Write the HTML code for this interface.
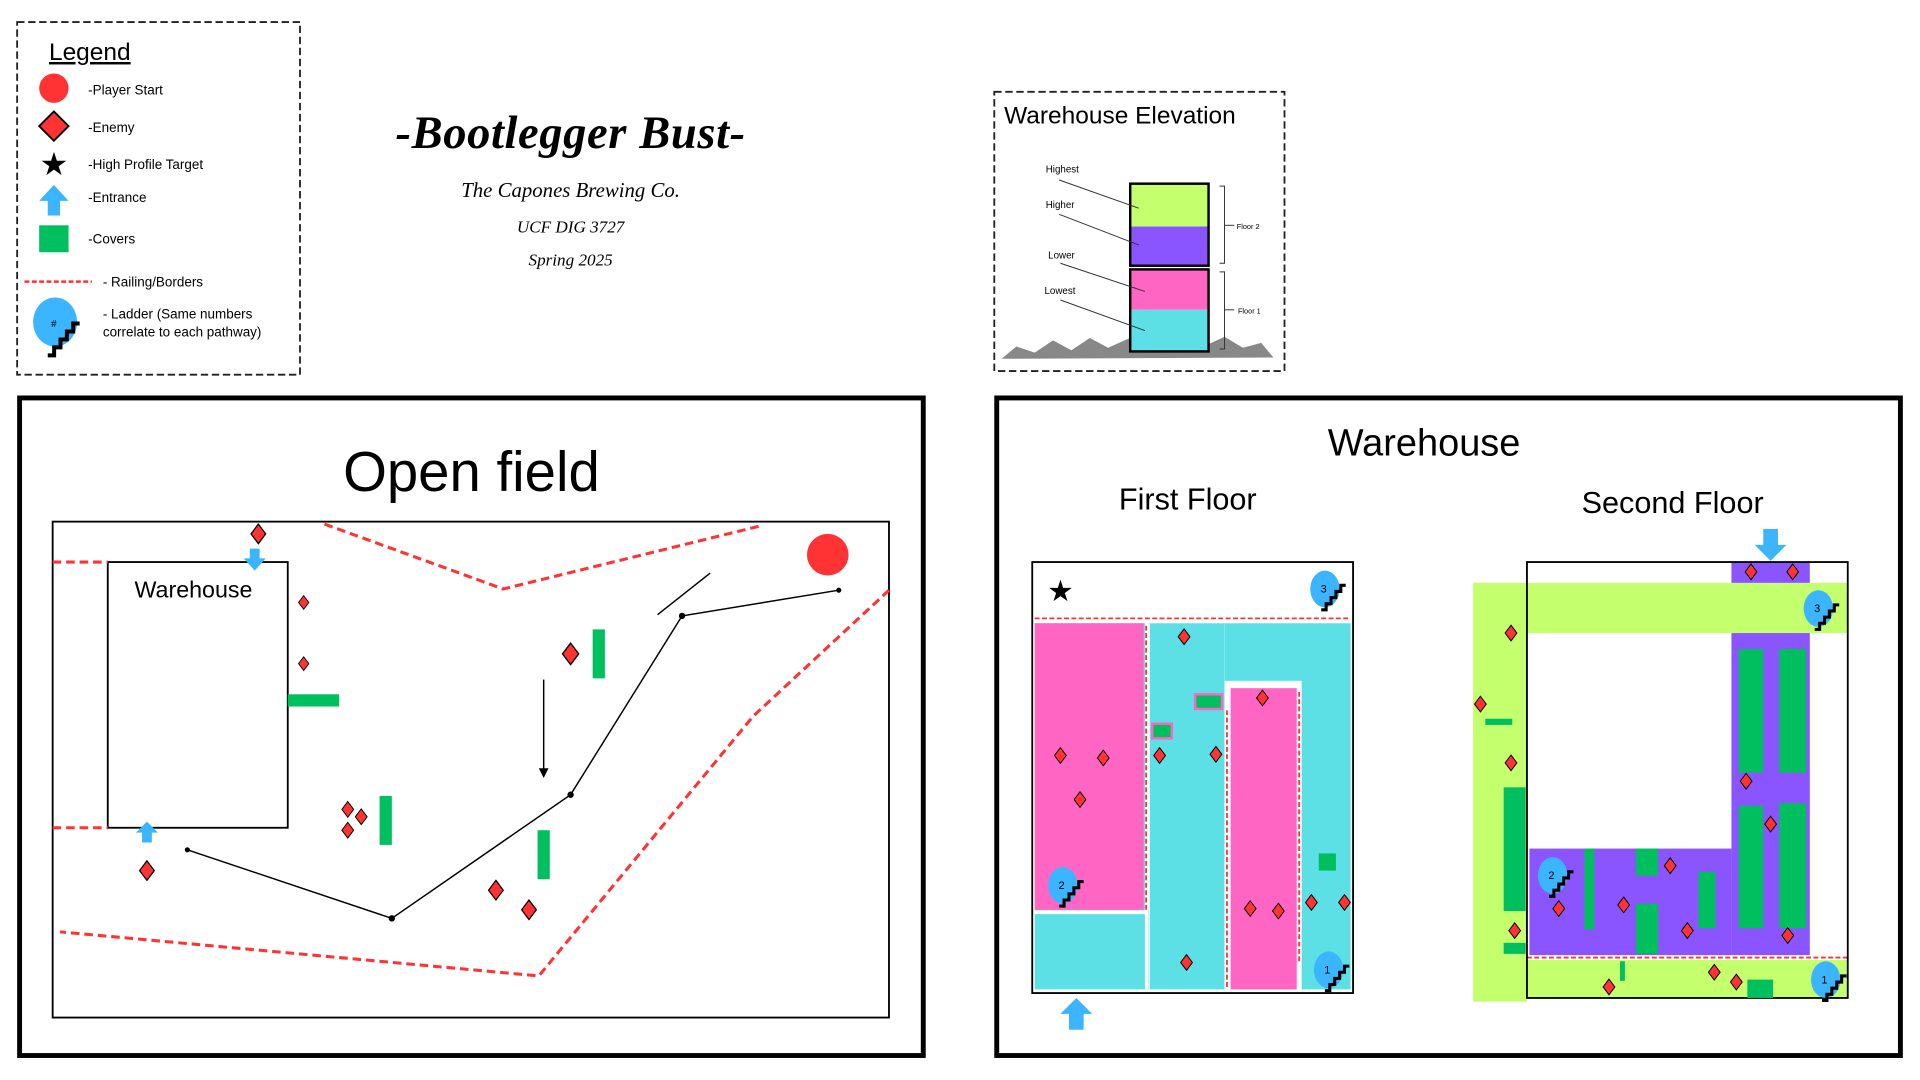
<!DOCTYPE html>
<html><head><meta charset="utf-8"><style>
html,body{margin:0;padding:0;background:#fff;width:1920px;height:1080px;overflow:hidden}
svg{display:block}
.s{font-family:"Liberation Sans",sans-serif}
.r{font-family:"Liberation Serif",serif;font-style:italic}
</style></head><body>
<svg id="map" width="1920" height="1080" viewBox="0 0 1568 882" preserveAspectRatio="none" xmlns="http://www.w3.org/2000/svg">
<defs>
<g id="dia"><polygon points="0,-8 6,0 0,8 -6,0" fill="#f33" stroke="#000" stroke-width="1"/></g>
<g id="stairs"><polyline points="-10,14 -6,14 -6,9 -2,9 -2,4 2,4 2,-1 6,-1 6,-6 10,-6" fill="none" stroke="#000" stroke-width="2.5"/></g>
</defs>

<!-- Legend -->
<g>
<rect x="14" y="18" width="231" height="288" fill="none" stroke="#222" stroke-width="1.5" stroke-dasharray="6,3"/>
<text class="s" x="40" y="49" font-size="20" text-decoration="underline">Legend</text>
<circle cx="44" cy="72" r="12" fill="#f33"/>
<text class="s" x="72" y="77" font-size="11">-Player Start</text>
<polygon points="44,91 56,103 44,115 32,103" fill="#f33" stroke="#000" stroke-width="1.5"/>
<text class="s" x="72" y="108" font-size="11">-Enemy</text>
<text x="44" y="143" font-size="26" text-anchor="middle">★</text>
<text class="s" x="72" y="138" font-size="11">-High Profile Target</text>
<polygon points="44,151 56,164 49,164 49,176 39,176 39,164 32,164" fill="#3bb5ff"/>
<text class="s" x="72" y="165" font-size="11">-Entrance</text>
<rect x="32" y="184" width="24" height="22" fill="#00bf5f"/>
<text class="s" x="72" y="199" font-size="11">-Covers</text>
<line x1="20" y1="230" x2="75" y2="230" stroke="#f33" stroke-width="2" stroke-dasharray="4,2"/>
<text class="s" x="84" y="234" font-size="11">- Railing/Borders</text>
<ellipse cx="45" cy="263" rx="18" ry="20" fill="#3bb5ff"/>
<text class="s" x="44" y="267" font-size="8" text-anchor="middle">#</text>
<use href="#stairs" transform="translate(52,272) scale(1.3)"/>
<text class="s" x="84" y="260" font-size="11">- Ladder (Same numbers</text>
<text class="s" x="84" y="275" font-size="11">correlate to each pathway)</text>
</g>

<!-- Title -->
<text class="r" x="466" y="121" font-size="38" font-weight="bold" text-anchor="middle" letter-spacing="0.5">-Bootlegger Bust-</text>
<text class="r" x="466" y="161" font-size="17" text-anchor="middle">The Capones Brewing Co.</text>
<text class="r" x="466" y="190" font-size="14" text-anchor="middle">UCF DIG 3727</text>
<text class="r" x="466" y="217" font-size="14" text-anchor="middle">Spring 2025</text>

<!-- Elevation -->
<g>
<rect x="812" y="75" width="237" height="228" fill="none" stroke="#222" stroke-width="1.5" stroke-dasharray="6,3"/>
<text class="s" x="820" y="101" font-size="20">Warehouse Elevation</text>
<polygon points="818,293 830,283 845,288 860,278 875,286 890,276 905,284 925,275 940,283 960,276 985,282 1000,275 1015,284 1030,280 1040,292" fill="#888"/>
<rect x="923" y="150" width="64" height="35" fill="#c4ff6e"/>
<rect x="923" y="185" width="64" height="32" fill="#8a55ff"/>
<rect x="923" y="220" width="64" height="33" fill="#ff66c4"/>
<rect x="923" y="253" width="64" height="34" fill="#5ce0e6"/>
<rect x="923" y="150" width="64" height="67" fill="none" stroke="#000" stroke-width="2"/>
<rect x="923" y="220" width="64" height="67" fill="none" stroke="#000" stroke-width="2"/>
<g class="s" font-size="8">
<text x="854" y="141">Highest</text><text x="854" y="170">Higher</text><text x="856" y="211">Lower</text><text x="853" y="240">Lowest</text>
<text x="1010" y="187" font-size="6">Floor 2</text><text x="1011" y="256" font-size="6">Floor 1</text>
</g>
<g stroke="#333" stroke-width="0.8" fill="none">
<line x1="865" y1="147" x2="930" y2="170"/><line x1="865" y1="175" x2="930" y2="200"/>
<line x1="866" y1="215" x2="935" y2="238"/><line x1="866" y1="245" x2="935" y2="270"/>
<polyline points="996,152 1000,152 1000,215 996,215"/><line x1="1000" y1="184" x2="1008" y2="184"/>
<polyline points="996,222 1000,222 1000,285 996,285"/><line x1="1000" y1="253" x2="1008" y2="253"/>
</g>
</g>

<!-- Open field panel -->
<g>
<rect x="16" y="325" width="738" height="537" fill="none" stroke="#000" stroke-width="4"/>
<text class="s" x="385" y="401" font-size="46" text-anchor="middle">Open field</text>
<rect x="43" y="426" width="683" height="405" fill="none" stroke="#000" stroke-width="1.5"/>
<rect x="88" y="459" width="147" height="217" fill="none" stroke="#000" stroke-width="1.5"/>
<text class="s" x="158" y="488" font-size="19" text-anchor="middle">Warehouse</text>
<g fill="none" stroke="#f33" stroke-width="2.5" stroke-dasharray="7,4">
<line x1="43" y1="459" x2="88" y2="459"/><line x1="43" y1="676" x2="88" y2="676"/>
<polyline points="265,428 411,481 623,429"/>
<polyline points="726,482 615,585 440,797 49,761"/>
</g>
<circle cx="676" cy="453" r="17" fill="#f33"/>
<g stroke="#000" stroke-width="1.2" fill="none">
<polyline points="153,694 320,750 466,649 557,503 685,482"/>
<line x1="537" y1="502" x2="580" y2="468"/>
<line x1="444" y1="555" x2="444" y2="630"/>
<polygon points="441,628 447,628 444,634" fill="#000"/>
<circle cx="153" cy="694" r="1.5" fill="#000"/><circle cx="320" cy="750" r="2" fill="#000"/><circle cx="466" cy="649" r="2" fill="#000"/><circle cx="557" cy="503" r="2" fill="#000"/><circle cx="685" cy="482" r="1.5" fill="#000"/>
</g>
<polygon points="208,466 199,456 204,456 204,448 212,448 212,456 217,456" fill="#3bb5ff"/>
<polygon points="120,671 129,680 124,680 124,688 116,688 116,680 111,680" fill="#3bb5ff"/>
</g>

<!-- Warehouse panel -->
<g>
<rect x="814" y="325" width="738" height="537" fill="none" stroke="#000" stroke-width="4"/>
<text class="s" x="1163" y="372" font-size="31" text-anchor="middle">Warehouse</text>
<text class="s" x="970" y="416" font-size="25" text-anchor="middle">First Floor</text>
<text class="s" x="1366" y="419" font-size="25" text-anchor="middle">Second Floor</text>
</g>

<!-- First floor -->
<g>
<rect x="845" y="509" width="258" height="299" fill="#5ce0e6"/>
<rect x="845" y="509" width="89" height="234" fill="#ff66c4"/>
<line x1="937" y1="509" x2="937" y2="808" stroke="#fff" stroke-width="4"/>
<line x1="845" y1="745" x2="937" y2="745" stroke="#fff" stroke-width="3"/>
<line x1="938" y1="743" x2="938" y2="808" stroke="#9ee" stroke-width="0.5"/>
<line x1="1000" y1="509" x2="1000" y2="556" stroke="#9ee" stroke-width="0.5"/>
<rect x="1000" y="556" width="63" height="252" fill="#fff"/>
<rect x="1005" y="562" width="54" height="246" fill="#ff66c4"/>
<g stroke="#f33" stroke-width="1.5" stroke-dasharray="4,2">
<line x1="845" y1="505" x2="1103" y2="505"/>
<line x1="936" y1="511" x2="936" y2="743"/>
<line x1="1002" y1="580" x2="1002" y2="808"/>
<line x1="1061" y1="565" x2="1061" y2="785"/>
</g>
<rect x="843" y="459" width="262" height="352" fill="none" stroke="#000" stroke-width="1.5"/>
<text x="866" y="491" font-size="24" text-anchor="middle">★</text>
<polygon points="879,815 892,828 885,828 885,841 873,841 873,828 866,828" fill="#3bb5ff"/>
</g>

<!-- Second floor -->
<g>
<rect x="1203" y="476" width="44" height="342" fill="#c4ff6e"/>
<rect x="1247" y="476" width="262" height="41" fill="#c4ff6e"/>
<rect x="1414" y="459" width="64" height="17" fill="#8a55ff"/>
<rect x="1414" y="517" width="64" height="263" fill="#8a55ff"/>
<rect x="1249" y="693" width="165" height="87" fill="#8a55ff"/>
<rect x="1247" y="784" width="262" height="31" fill="#c4ff6e"/>
<line x1="1247" y1="782" x2="1509" y2="782" stroke="#f33" stroke-width="1.5" stroke-dasharray="4,2"/>
<rect x="1247" y="459" width="262" height="356" fill="none" stroke="#000" stroke-width="1.5"/>
<polygon points="1446,458 1433,445 1440,445 1440,432 1452,432 1452,445 1459,445" fill="#3bb5ff"/>
</g>

<g id="marks"></g>
</svg>
<script>
const enemies = [[211,436,1],[248,492,0.7],[248,542,0.7],[466,534,1.1],[284,661,0.8],[295,667,0.8],[284,678,0.8],[120,711,1],[405,727,1],[432,743,1],
[967,520,0.8],[866,617,0.8],[901,619,0.8],[882,653,0.8],[947,617,0.8],[993,616,0.8],[1031,570,0.8],[1021,742,0.8],[1044,744,0.8],[1071,737,0.8],[1098,737,0.8],[969,786,0.8],
[1430,467,0.8],[1464,467,0.8],[1234,517,0.8],[1209,575,0.8],[1234,623,0.8],[1426,638,0.8],[1446,673,0.8],[1364,707,0.8],[1273,742,0.8],[1326,739,0.8],[1378,760,0.8],[1460,764,0.8],[1237,760,0.8],[1400,794,0.8],[1418,802,0.8],[1314,806,0.8]];
const covers = [[484,514,10,40],[235,567,42,10],[310,650,10,40],[439,678,10,40],
[1077,697,14,14],
[1420,530,20,101],[1453,530,22,101],[1420,658,20,100],[1453,656,22,102],[1228,643,18,101],[1213,587,22,5],[1228,770,18,9],[1294,693,8,66],[1336,693,18,22],[1336,738,18,41],[1387,712,14,46],[1427,800,21,15],[1323,785,4,16]];
const bordered = [[941,591,16,12],[976,567,22,12]];
const ladders = [[1082,481,"3"],[868,723,"2"],[1085,792,"1"],[1485,497,"3"],[1268,715,"2"],[1491,800,"1"]];
const NS='http://www.w3.org/2000/svg';
const g=document.getElementById('marks');
covers.forEach(c=>{const r=document.createElementNS(NS,'rect');
r.setAttribute('x',c[0]);r.setAttribute('y',c[1]);r.setAttribute('width',c[2]);r.setAttribute('height',c[3]);r.setAttribute('fill','#00bf5f');


g.appendChild(r);});
bordered.forEach(c=>{const r=document.createElementNS(NS,'rect');
r.setAttribute('x',c[0]);r.setAttribute('y',c[1]);r.setAttribute('width',c[2]);r.setAttribute('height',c[3]);r.setAttribute('fill','#00bf5f');r.setAttribute('stroke','#ff66c4');r.setAttribute('stroke-width','2');


g.appendChild(r);});
enemies.forEach(e=>{const u=document.createElementNS(NS,'use');
u.setAttribute('href','#dia');u.setAttribute('transform','translate('+e[0]+','+e[1]+') scale('+e[2]+')');


g.appendChild(u);});
ladders.forEach(l=>{const gg=document.createElementNS(NS,'g');


gg.innerHTML='<ellipse cx="'+l[0]+'" cy="'+l[1]+'" rx="12" ry="15" fill="#3bb5ff"/><text x="'+(l[0]-1)+'" y="'+(l[1]+3)+'" font-size="9" font-family="Liberation Sans,sans-serif" text-anchor="middle">'+l[2]+'</text><use href="#stairs" transform="translate('+(l[0]+7)+','+(l[1]+3)+')"/>';
g.appendChild(gg);});
</script>
</body></html>
